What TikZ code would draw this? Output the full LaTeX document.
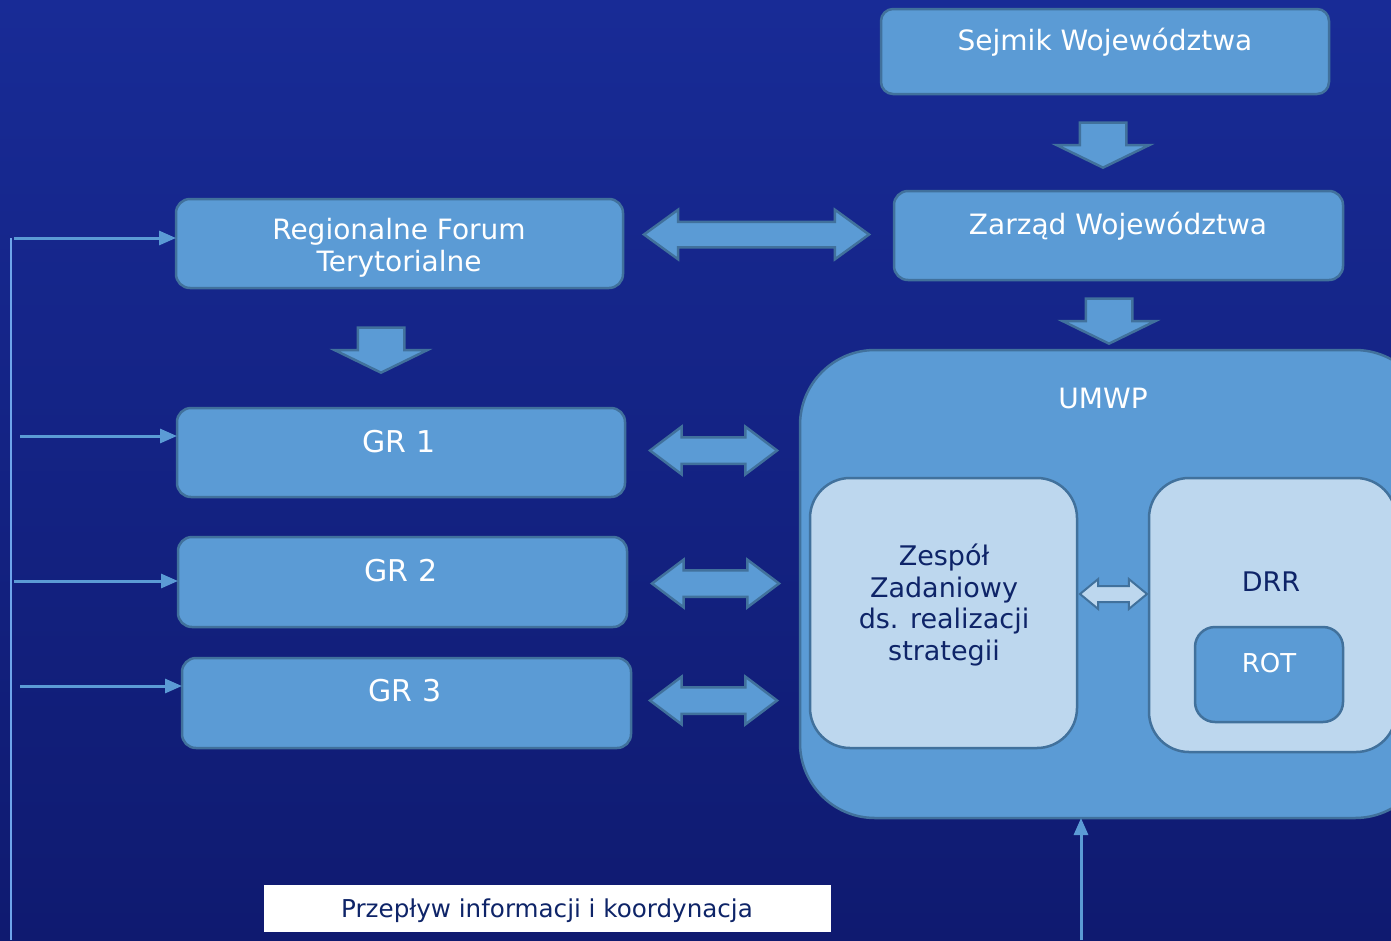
\documentclass[tikz,border=0pt]{standalone}
\usepackage{fontspec}
\setmainfont{DejaVu Sans}
\usetikzlibrary{shapes.arrows,arrows.meta}

\definecolor{tlogora}{RGB}{24,43,150}
\definecolor{tlodol}{RGB}{15,26,112}
\definecolor{blekit}{RGB}{91,155,213}
\definecolor{obrys}{RGB}{65,113,156}
\definecolor{jasnyblekit}{RGB}{189,215,238}
\definecolor{granat}{RGB}{14,36,104}
\definecolor{linia}{RGB}{110,165,235}

\begin{document}
\begin{tikzpicture}[x=1pt,y=1pt,yscale=-1,
		ramka/.style={draw=obrys, line width=2.5pt, inner sep=0pt, outer sep=0pt},
		blok/.style={ramka, fill=blekit, rounded corners=14pt},
		jasny/.style={ramka, fill=jasnyblekit, rounded corners=40pt},
		napis/.style={text=white, font=\fontsize{28}{32}\selectfont, align=center, inner sep=0pt},
		napisc/.style={napis, text=granat},
		napisgr/.style={napis, anchor=base, font=\fontsize{30}{34}\selectfont},
		strzalka/.style={draw=blekit, line width=3pt, -{Triangle[length=17pt,width=14pt]}},
		grubadwu/.style={ramka, fill=blekit, double arrow, double arrow tip angle=74, double arrow head extend=10.5pt, inner xsep=0pt, inner ysep=12pt},
		grubadol/.style={ramka, fill=blekit, single arrow, shape border rotate=270, single arrow tip angle=128, single arrow head extend=23pt, inner xsep=22pt, inner ysep=0pt},
	]
	%Background
	\shade[top color=tlogora, bottom color=tlodol] (0,0) rectangle (1391,940);
	\clip (0,0) rectangle (1391,940);
	
	%Shape: Rounded Rect [id:sejmik]
	\node[blok, rounded corners=12pt, minimum width=448pt, minimum height=85pt] (sejmik) at (1105,51.5) {};
	%Shape: Rounded Rect [id:zarzad]
	\node[blok, minimum width=449pt, minimum height=89pt] (zarzad) at (1118.5,235.5) {};
	%Shape: Rounded Rect [id:rft]
	\node[blok, minimum width=447pt, minimum height=89pt] (rft) at (399.5,243.5) {};
	%Shape: Rounded Rect [id:gr1]
	\node[blok, minimum width=448pt, minimum height=89pt] (gr1) at (401,452.5) {};
	%Shape: Rounded Rect [id:gr2]
	\node[blok, minimum width=449pt, minimum height=90pt] (gr2) at (402.5,582) {};
	%Shape: Rounded Rect [id:gr3]
	\node[blok, minimum width=449pt, minimum height=90pt] (gr3) at (406.5,703) {};
	%Shape: Rounded Rect [id:umwp]
	\node[blok, rounded corners=75pt, minimum width=630pt, minimum height=468pt] (umwp) at (1115,584) {};
	%Shape: Rounded Rect [id:zespol]
	\node[jasny, minimum width=267pt, minimum height=270pt] (zespol) at (943.5,613) {};
	%Shape: Rounded Rect [id:drr]
	\node[jasny, minimum width=247pt, minimum height=274pt] (drr) at (1272.5,615) {};
	%Shape: Rounded Rect [id:rot]
	\node[blok, rounded corners=20pt, minimum width=148pt, minimum height=95pt] (rot) at (1269,674.5) {};
	%Shape: Rectangle [id:legenda]
	\node[fill=white, minimum width=567pt, minimum height=47pt, inner sep=0pt] (legenda) at (547.5,908.5) {};
	
	%Shape: Block Arrows
	\node[grubadol, minimum height=45pt] (dol1) at (1103,139.5) {};
	\node[grubadol, minimum height=45pt] (dol2) at (1109,315.5) {};
	\node[grubadol, minimum height=45pt] (dol3) at (381,344.5) {};
	\node[grubadwu, double arrow tip angle=72, double arrow head extend=12pt, inner ysep=11.5pt, minimum height=225pt] (dwu0) at (756.5,234.5) {};
	\node[grubadwu, minimum height=127pt] (dwu1) at (713.5,450.5) {};
	\node[grubadwu, minimum height=127pt] (dwu2) at (715.5,583.5) {};
	\node[grubadwu, minimum height=127pt] (dwu3) at (713.5,700.5) {};
	\node[grubadwu, fill=jasnyblekit, line width=2pt, double arrow tip angle=79, double arrow head extend=7pt, inner ysep=7pt, minimum height=67pt] (dwu4) at (1113.5,594) {};
	
	%Straight Lines
	\coordinate (we0) at (14,238);
	\coordinate (we1) at (20,436);
	\coordinate (we2) at (14,581);
	\coordinate (we3) at (20,686);
	\coordinate (gora) at (11,238);
	\coordinate (dolL) at (11,940);
	\coordinate (dolP) at (1081,940);
	\draw[linia, line width=1.2pt] (gora) -- (dolL);
	\draw[strzalka] (we0) -- (we0 -| rft.west);
	\draw[strzalka] (we1) -- (we1 -| gr1.west);
	\draw[strzalka] (we2) -- (we2 -| gr2.west);
	\draw[strzalka] (we3) -- (we3 -| gr3.west);
	\draw[strzalka] (dolP) -- (dolP |- umwp.south);
	
	% Text Node
	\node[napis, anchor=base] (tsejmik) at (1105,50) {Sejmik Województwa};
	% Text Node
	\node[napis, anchor=base] (tzarzad) at (1118,234) {Zarząd Województwa};
	% Text Node
	\node[napis] (trft) at (399,248) {Regionalne Forum\\Terytorialne};
	% Text Node
	\node[napisgr] (tgr1) at (399,452) {GR 1};
	% Text Node
	\node[napisgr] (tgr2) at (401,581) {GR 2};
	% Text Node
	\node[napisgr] (tgr3) at (405,701) {GR 3};
	% Text Node
	\node[napis, anchor=base] (tumwp) at (1103,408) {UMWP};
	% Text Node
	\node[napisc, font=\fontsize{27}{31.7}\selectfont] (tzespol) at (944,605) {Zespół\\Zadaniowy\\ds. realizacji\\strategii};
	% Text Node
	\node[napisc, anchor=base, font=\fontsize{27}{32}\selectfont] (tdrr) at (1271,591) {DRR};
	% Text Node
	\node[napis, anchor=base, font=\fontsize{26}{30}\selectfont] (trot) at (1269,672) {ROT};
	% Text Node
	\node[napisc, anchor=base, font=\fontsize{24.6}{28}\selectfont] (tlegenda) at (547,917) {Przepływ informacji i koordynacja};
\end{tikzpicture}
\end{document}
